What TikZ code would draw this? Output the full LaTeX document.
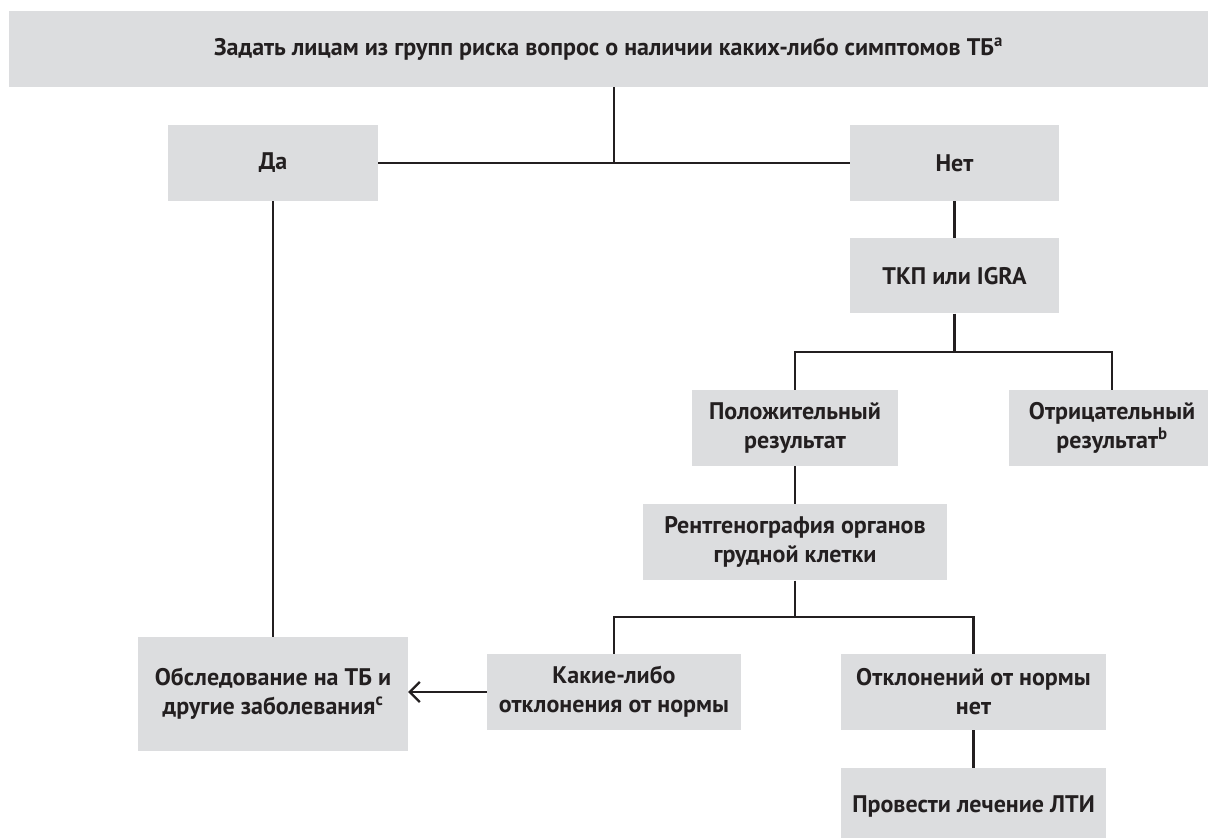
\documentclass[tikz,border=0pt]{standalone}
\usepackage{fontspec}
\setmainfont{PT Sans}
\usepackage{tikz}
\usetikzlibrary{shapes,arrows,arrows.meta,positioning,calc}
\definecolor{boxgray}{RGB}{220,221,223}
\definecolor{ink}{RGB}{35,31,32}
\tikzstyle{box} = [rectangle, fill=boxgray, draw=none, text=ink, align=center, inner sep=0pt, minimum height=76pt, font=\fontsize{24}{29}\selectfont\bfseries]
\tikzstyle{link} = [draw=ink, line width=2.2pt]

\begin{document}
\begin{tikzpicture}[x=1pt,y=-1pt]
\useasboundingbox (0,0) rectangle (1208,838);
% boxes, top to bottom
\node[box, minimum width=1199pt] (Root) at (608.5,49) {Задать лицам из групп риска вопрос о наличии каких-либо симптомов ТБ\textsuperscript{a}};
\node[box, minimum width=210pt] (Yes) at (273,163) {Да};
\node[box, minimum width=209pt] (No) at (954.5,163) {Нет};
\node[box, minimum width=209pt, minimum height=75pt, below=37pt of No] (Test) {ТКП или IGRA};
\node[box, minimum width=206pt] (Pos) at (795,428) {Положительный\\результат};
\node[box, minimum width=206pt] (Neg) at (1112,428) {Отрицательный\\результат\textsuperscript{b}};
\node[box, minimum width=304pt, below=38pt of Pos] (Xray) {Рентгенография органов\\грудной клетки};
\node[box, minimum width=254pt] (Abn) at (614,692) {Какие-либо\\отклонения от нормы};
\node[box, minimum width=265pt] (Norm) at (973.5,692) {Отклонений от нормы\\нет};
\node[box, minimum width=265pt, below=38pt of Norm] (Treat) {Провести лечение ЛТИ};
\node[box, minimum width=270pt, minimum height=114pt] (Exam) at (273,694) {Обследование на ТБ и\\другие заболевания\textsuperscript{c}};

% connectors
\coordinate (Split-0) at ($(Yes.east)!0.5!(No.west)$);
\draw[link] (Yes.east) -- (No.west);
\draw[link] (Root.south -| Split-0) -- (Split-0);
\draw[link] (Yes.south) -- (Exam.north);
\draw[link] (No.south) -- (Test.north);
\draw[link] (Test.south) -- ++(0,38.5) coordinate (Split-1);
\draw[link] (Pos.north) |- (Split-1) -| (Neg.north);
\draw[link] (Pos.south) -- (Xray.north);
\draw[link] (Xray.south) -- ++(0,36) coordinate (Split-2);
\draw[link] (Abn.north) |- (Split-2) -| (Norm.north);
\draw[link] (Norm.south) -- (Treat.north);
\draw[link, -{Straight Barb[length=10pt,width=20pt]}] (Abn.west) -- (Abn.west -| Exam.east);
\end{tikzpicture}
\end{document}
